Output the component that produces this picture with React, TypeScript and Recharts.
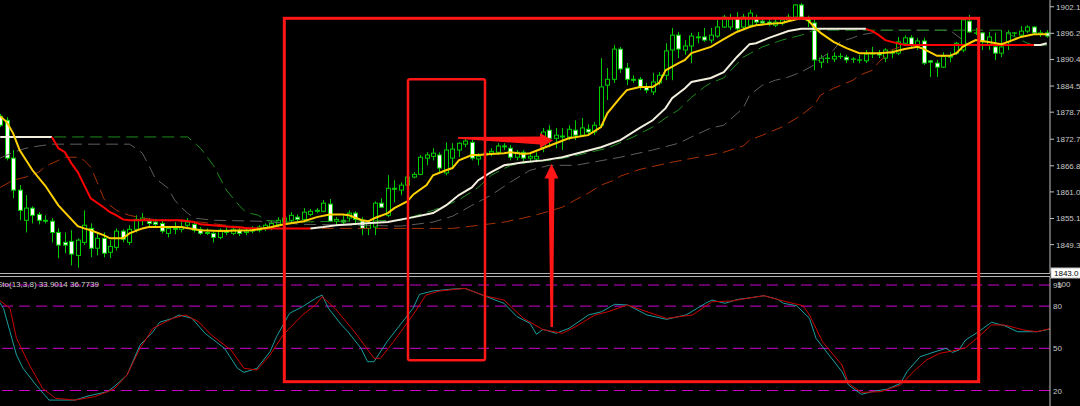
import React from 'react';
import { ComposedChart, Bar, Line, XAxis, YAxis, ReferenceLine } from 'recharts';

// candles, oldest first
const opens = [
  1877.8, 1876.9, 1868.5, 1861.4, 1854.7, 1857.4, 1856.0, 1854.7, 1854.5, 1852.0,
  1849.8, 1850.0, 1846.9, 1849.8, 1852.9, 1848.5, 1850.7, 1847.6, 1848.7, 1852.3,
  1849.8, 1852.7, 1854.7, 1854.5, 1854.3, 1854.0, 1851.8, 1852.9, 1852.7, 1853.6,
  1853.8, 1852.7, 1852.0, 1851.8, 1850.9, 1852.3, 1851.8, 1852.5, 1852.0, 1852.3,
  1852.5, 1852.9, 1852.9, 1853.8, 1854.3, 1854.7, 1855.4, 1854.9, 1856.0, 1856.7,
  1856.7, 1858.3, 1854.5, 1854.7, 1855.2, 1856.3, 1854.7, 1852.9, 1853.2, 1858.5,
  1855.8, 1861.8, 1861.4, 1862.5, 1864.3, 1864.9, 1868.5, 1868.9, 1869.2, 1865.2,
  1868.5, 1870.3, 1871.6, 1872.0, 1868.3, 1869.2, 1869.6, 1869.8, 1871.2, 1870.7,
  1868.7, 1869.8, 1868.5, 1868.3, 1870.9, 1874.7, 1872.9, 1873.2, 1873.2, 1874.7,
  1873.6, 1874.9, 1874.3, 1875.8, 1884.7, 1886.0, 1892.7, 1888.5, 1886.0, 1886.0,
  1884.3, 1883.2, 1885.2, 1886.9, 1892.5, 1895.8, 1892.5, 1893.4, 1895.4, 1895.4,
  1894.7, 1895.6, 1897.6, 1897.6, 1899.6, 1897.6, 1898.0, 1899.4, 1898.9, 1898.7,
  1898.0, 1898.5, 1899.2, 1899.8, 1902.5, 1899.6, 1898.5, 1889.8, 1890.7, 1890.5,
  1891.1, 1890.9, 1890.5, 1890.3, 1890.1, 1891.6, 1891.8, 1890.7, 1892.0, 1891.8,
  1894.0, 1895.2, 1893.4, 1894.5, 1890.1, 1889.6, 1888.7, 1890.9, 1891.8, 1892.5,
  1898.9, 1896.3, 1896.3, 1893.6, 1893.2, 1891.8, 1894.3, 1896.3, 1895.8, 1896.7,
  1897.6, 1896.3, 1896.3,
];
const highs = [
  1878.3, 1877.6, 1870.3, 1862.5, 1860.3, 1857.8, 1856.5, 1855.8, 1855.2, 1852.9,
  1852.0, 1852.5, 1850.7, 1856.9, 1854.0, 1851.8, 1852.0, 1850.3, 1852.9, 1852.7,
  1853.6, 1855.8, 1856.3, 1855.2, 1855.0, 1854.7, 1853.4, 1854.3, 1854.3, 1855.2,
  1854.5, 1853.2, 1852.9, 1852.3, 1852.9, 1853.2, 1853.2, 1853.0, 1852.9, 1853.4,
  1853.6, 1854.0, 1854.7, 1855.4, 1855.6, 1856.5, 1856.0, 1857.4, 1857.2, 1857.4,
  1859.2, 1859.4, 1855.4, 1855.8, 1856.9, 1856.7, 1855.4, 1854.5, 1858.9, 1859.6,
  1864.7, 1863.6, 1863.1, 1865.4, 1865.4, 1869.2, 1869.8, 1870.7, 1869.8, 1872.0,
  1871.8, 1872.0, 1872.9, 1872.5, 1869.6, 1870.0, 1870.7, 1871.8, 1871.8, 1871.4,
  1870.3, 1870.3, 1869.4, 1869.8, 1875.2, 1875.8, 1875.2, 1875.2, 1875.8, 1876.9,
  1877.4, 1876.0, 1876.5, 1890.7, 1888.5, 1893.6, 1893.2, 1889.6, 1886.9, 1886.5,
  1885.2, 1887.4, 1887.6, 1894.0, 1897.4, 1896.5, 1894.7, 1896.3, 1896.5, 1897.4,
  1897.4, 1899.2, 1900.3, 1900.5, 1900.9, 1900.5, 1901.4, 1900.3, 1899.6, 1899.4,
  1899.4, 1899.8, 1900.5, 1902.7, 1902.9, 1900.1, 1899.2, 1891.4, 1891.8, 1892.0,
  1891.8, 1891.4, 1890.9, 1891.4, 1892.5, 1893.2, 1892.5, 1892.9, 1892.7, 1895.4,
  1895.8, 1895.8, 1895.2, 1895.2, 1890.3, 1890.3, 1892.0, 1892.0, 1894.3, 1899.6,
  1900.3, 1897.4, 1896.5, 1896.5, 1896.3, 1896.9, 1896.9, 1896.5, 1897.8, 1898.0,
  1897.8, 1896.9, 1896.9,
];
const lows = [
  1875.4, 1868.0, 1859.6, 1854.7, 1852.0, 1854.0, 1853.8, 1854.0, 1849.8, 1846.3,
  1847.4, 1844.7, 1844.2, 1849.2, 1846.5, 1846.9, 1846.5, 1846.3, 1848.0, 1849.8,
  1849.2, 1852.0, 1853.6, 1853.4, 1853.2, 1851.8, 1850.9, 1851.6, 1852.0, 1853.2,
  1852.0, 1851.4, 1851.4, 1849.8, 1850.5, 1851.4, 1851.4, 1851.2, 1851.4, 1851.8,
  1852.0, 1852.3, 1852.5, 1853.2, 1853.8, 1854.3, 1854.5, 1854.3, 1855.6, 1856.3,
  1856.5, 1854.3, 1853.6, 1853.8, 1854.5, 1853.6, 1851.4, 1851.4, 1851.4, 1857.4,
  1855.4, 1858.7, 1860.3, 1862.0, 1864.0, 1864.7, 1866.9, 1868.0, 1865.4, 1864.7,
  1866.5, 1868.7, 1870.9, 1868.0, 1866.9, 1868.5, 1868.9, 1869.2, 1870.3, 1868.0,
  1868.0, 1867.8, 1867.6, 1867.6, 1869.8, 1870.9, 1870.7, 1870.3, 1872.5, 1872.5,
  1873.2, 1873.4, 1873.6, 1875.2, 1881.4, 1885.2, 1887.4, 1884.7, 1885.2, 1883.6,
  1882.9, 1882.5, 1884.7, 1885.8, 1885.8, 1890.7, 1891.4, 1889.6, 1894.0, 1894.3,
  1894.0, 1895.2, 1897.4, 1896.9, 1896.5, 1897.2, 1897.6, 1898.0, 1898.0, 1897.8,
  1897.6, 1898.0, 1898.7, 1899.4, 1899.6, 1897.6, 1888.0, 1888.5, 1889.6, 1889.8,
  1890.5, 1889.6, 1889.6, 1889.6, 1889.6, 1890.7, 1890.7, 1889.8, 1890.7, 1891.4,
  1893.6, 1892.9, 1892.5, 1889.2, 1886.5, 1886.5, 1888.5, 1889.8, 1891.4, 1892.0,
  1896.3, 1895.8, 1892.5, 1892.5, 1890.3, 1890.9, 1892.5, 1895.4, 1895.4, 1896.3,
  1895.8, 1895.4, 1895.2,
];
const closes = [
  1875.8, 1868.5, 1861.4, 1856.9, 1857.4, 1855.8, 1854.7, 1854.5, 1852.0, 1849.2,
  1849.2, 1847.2, 1850.3, 1853.6, 1848.5, 1850.7, 1847.4, 1848.9, 1852.3, 1850.5,
  1852.7, 1854.9, 1855.2, 1854.0, 1853.8, 1852.3, 1852.9, 1852.7, 1853.2, 1854.3,
  1852.5, 1851.8, 1851.8, 1850.9, 1852.5, 1852.0, 1852.7, 1851.8, 1852.3, 1852.7,
  1853.2, 1853.6, 1854.0, 1854.7, 1855.2, 1855.8, 1854.9, 1856.5, 1856.7, 1856.9,
  1858.5, 1854.5, 1854.9, 1854.3, 1856.3, 1854.9, 1852.9, 1854.0, 1858.5, 1857.6,
  1861.8, 1861.6, 1862.5, 1864.3, 1864.9, 1868.7, 1869.2, 1869.6, 1866.3, 1870.3,
  1870.5, 1871.8, 1872.3, 1868.5, 1868.9, 1869.6, 1870.0, 1871.2, 1871.0, 1868.7,
  1869.8, 1868.5, 1868.9, 1868.9, 1874.3, 1872.9, 1873.6, 1873.4, 1874.9, 1873.6,
  1875.2, 1874.3, 1875.8, 1884.3, 1886.0, 1892.7, 1888.3, 1886.0, 1885.8, 1884.3,
  1883.6, 1885.4, 1886.9, 1892.3, 1895.8, 1892.7, 1893.4, 1895.6, 1895.2, 1894.7,
  1895.8, 1897.6, 1899.8, 1899.6, 1897.2, 1899.8, 1900.7, 1898.7, 1898.5, 1898.3,
  1898.7, 1899.2, 1899.8, 1902.5, 1899.8, 1899.0, 1890.3, 1890.7, 1890.7, 1891.1,
  1891.1, 1890.3, 1890.5, 1890.3, 1891.6, 1891.8, 1891.4, 1892.5, 1891.8, 1894.3,
  1895.2, 1893.6, 1894.5, 1889.6, 1889.8, 1888.7, 1891.1, 1891.1, 1894.0, 1899.2,
  1896.5, 1896.3, 1894.3, 1895.4, 1891.8, 1893.2, 1896.3, 1896.3, 1896.7, 1897.6,
  1896.3, 1896.3, 1895.6,
];

// moving averages, [candle index, price]
const yellowMA: [number, number][] = [
  [0, 1877.8], [1, 1876.5], [2, 1874.0], [3, 1870.3], [5, 1865.8], [7, 1862.3], [9, 1858.0],
  [12, 1853.4], [13, 1852.9], [14, 1852.5], [16, 1851.4], [17, 1850.7], [19, 1850.7], [20, 1851.8],
  [22, 1852.9], [23, 1853.2], [28, 1853.2], [31, 1852.5], [34, 1852.3], [39, 1852.5], [42, 1853.2],
  [44, 1853.8], [47, 1854.5], [49, 1855.4], [51, 1856.0], [53, 1856.0], [54, 1855.8], [56, 1854.7],
  [57, 1854.5], [58, 1855.2], [60, 1856.3], [61, 1857.4], [63, 1858.9], [64, 1860.5], [66, 1862.5],
  [67, 1864.7], [69, 1865.8], [70, 1866.3], [71, 1868.0], [73, 1869.2], [74, 1869.2], [76, 1869.4],
  [78, 1869.6], [79, 1869.8], [81, 1869.4], [82, 1869.6], [84, 1870.7], [88, 1872.9], [91, 1873.6],
  [93, 1875.4], [94, 1878.5], [96, 1882.0], [97, 1883.6], [99, 1884.3], [101, 1884.3], [102, 1885.2],
  [103, 1888.0], [105, 1889.6], [106, 1890.3], [107, 1891.8], [110, 1893.2], [112, 1894.9],
  [114, 1896.5], [116, 1897.6], [117, 1898.0], [119, 1898.3], [121, 1898.5], [122, 1898.9],
  [124, 1899.6], [125, 1899.2], [126, 1897.6], [127, 1896.3], [129, 1894.3], [131, 1892.9],
  [133, 1891.8], [136, 1891.8], [138, 1892.0], [140, 1892.7], [142, 1893.2], [143, 1892.7],
  [145, 1891.2], [147, 1891.2], [148, 1891.8], [149, 1893.2], [150, 1894.0], [151, 1894.7],
  [153, 1894.3], [155, 1893.8], [156, 1894.3], [158, 1895.4], [160, 1896.0], [162, 1896.0],
];
// two-colour average: white while rising, red while falling
const whiteMA: [number, number][][] = [
  [[0, 1873.2], [8, 1873.2]],
  [
    [48, 1852.9], [50, 1853.2], [52, 1853.6], [56, 1854.0], [60, 1854.3], [64, 1855.4], [67, 1856.3],
    [69, 1858.0], [71, 1860.3], [73, 1862.0], [74, 1863.6], [76, 1865.4], [78, 1866.9], [81, 1867.6],
    [84, 1868.0], [87, 1868.7], [90, 1869.8], [93, 1870.9], [96, 1872.5], [99, 1875.2], [101, 1876.9],
    [103, 1879.6], [104, 1881.8], [106, 1884.0], [107, 1885.4], [110, 1886.3], [112, 1887.6],
    [114, 1890.9], [116, 1893.8], [117, 1894.0], [119, 1895.2], [122, 1896.7], [124, 1897.2], [134, 1897.2],
  ],
  [[160, 1893.6], [161, 1893.6], [162, 1894.0]],
];
const redMA: [number, number][][] = [
  [
    [8, 1873.2], [9, 1870.7], [10, 1869.8], [11, 1867.4], [12, 1865.4], [13, 1862.5], [14, 1859.6],
    [16, 1857.6], [17, 1856.5], [18, 1855.8], [19, 1854.9], [20, 1854.7], [28, 1854.7], [30, 1854.3],
    [31, 1853.8], [36, 1853.2], [39, 1852.9], [48, 1852.9],
  ],
  [[134, 1897.2], [135, 1896.7], [136, 1895.8], [137, 1894.7], [138, 1894.3], [140, 1893.6], [160, 1893.6]],
];
const greenMA: [number, number][] = [
  [0, 1873.2], [29, 1873.2], [31, 1870.7], [33, 1866.9], [35, 1861.4], [37, 1858.0], [38, 1856.5],
  [40, 1855.8], [41, 1854.7], [45, 1854.3], [62, 1854.7], [67, 1856.9], [71, 1859.2], [74, 1862.0],
  [76, 1864.7], [79, 1866.9], [82, 1867.6], [85, 1868.0], [88, 1868.7], [94, 1870.7], [98, 1873.2],
  [101, 1875.4], [103, 1877.4], [105, 1879.2], [107, 1882.0], [109, 1884.3], [110, 1885.2],
  [112, 1886.3], [115, 1890.9], [118, 1893.2], [121, 1894.7], [124, 1895.8], [126, 1896.9],
  [155, 1896.9], [159, 1894.0], [160, 1893.6], [162, 1893.6],
];
const grayMA: [number, number][] = [
  [0, 1868.5], [2, 1869.8], [4, 1870.7], [6, 1871.2], [8, 1871.6], [20, 1871.6], [21, 1870.7],
  [22, 1869.6], [23, 1866.9], [24, 1864.0], [26, 1861.8], [27, 1859.2], [28, 1857.6], [29, 1856.3],
  [30, 1855.2], [33, 1854.7], [40, 1854.5], [47, 1853.8], [56, 1853.6], [62, 1853.4], [67, 1854.3],
  [70, 1855.6], [73, 1858.0], [76, 1860.3], [79, 1863.2], [82, 1865.8], [85, 1866.9], [89, 1866.9],
  [96, 1868.7], [101, 1870.3], [105, 1871.8], [107, 1873.2], [110, 1875.2], [112, 1875.8],
  [115, 1879.6], [116, 1882.5], [118, 1884.7], [120, 1885.8], [122, 1886.5], [124, 1887.6],
  [126, 1889.2], [127, 1890.7], [129, 1892.5], [130, 1894.3], [132, 1895.2], [133, 1895.8],
  [135, 1896.3], [136, 1896.9], [147, 1896.9], [149, 1894.7], [150, 1893.6], [162, 1893.6],
];
const brownMA: [number, number][] = [
  [0, 1862.0], [2, 1863.6], [4, 1864.3], [6, 1865.4], [7, 1866.7], [9, 1868.0], [10, 1868.7],
  [12, 1868.7], [13, 1868.0], [14, 1866.5], [15, 1863.2], [16, 1859.6], [17, 1858.0], [18, 1856.9],
  [19, 1856.3], [20, 1855.8], [22, 1855.2], [25, 1854.7], [31, 1854.3], [36, 1853.4], [40, 1852.9],
  [70, 1852.9], [73, 1853.4], [78, 1854.3], [81, 1855.2], [84, 1856.3], [87, 1857.6], [89, 1859.2],
  [91, 1860.7], [93, 1862.5], [95, 1863.6], [96, 1864.5], [99, 1866.0], [104, 1867.6], [108, 1868.7],
  [112, 1869.8], [115, 1871.2], [116, 1872.5], [118, 1873.6], [121, 1875.4], [122, 1876.3],
  [124, 1878.0], [126, 1880.3], [127, 1882.5], [129, 1884.0], [132, 1885.8], [133, 1886.9],
  [135, 1888.0], [136, 1889.8], [138, 1892.5], [140, 1893.6], [162, 1893.6],
];

// stochastic (13,3,8)
const stochMain: [number, number][] = [
  [0, 85.5], [1, 78.4], [2, 61.8], [3, 45.2], [4, 35.8], [6, 23.9], [8, 13.2], [10, 13.2], [12, 13.2],
  [14, 16.1], [17, 19.2], [18, 22.7], [20, 31.0], [22, 52.3], [24, 61.8], [25, 68.5], [27, 71.3],
  [28, 73.7], [30, 71.3], [32, 60.7], [35, 50.0], [37, 35.8], [38, 32.9], [40, 35.8], [42, 47.6],
  [43, 58.2], [45, 74.9], [47, 79.6], [49, 85.5], [50, 87.9], [51, 78.4], [53, 66.6], [54, 61.8],
  [56, 50.0], [57, 40.5], [58, 40.5], [60, 54.7], [62, 66.6], [64, 78.4], [65, 88.4], [67, 90.7],
  [70, 92.1], [72, 92.6], [74, 89.1], [76, 85.5], [78, 82.0], [80, 72.5], [82, 67.8], [83, 60.0],
  [84, 63.5], [86, 60.7], [88, 64.2], [91, 73.7], [93, 76.0], [95, 81.3], [97, 80.8], [100, 73.7],
  [103, 70.6], [106, 73.7], [109, 82.0], [110, 84.3], [112, 82.0], [114, 84.8], [116, 86.0],
  [118, 87.4], [120, 85.0], [121, 82.0], [123, 80.3], [125, 71.3], [126, 57.1], [128, 45.2],
  [130, 33.4], [131, 23.9], [133, 17.3], [135, 19.6], [137, 21.0], [139, 25.1], [140, 33.4],
  [142, 44.0], [144, 47.1], [146, 50.0], [147, 47.1], [148, 48.8], [149, 55.9], [151, 61.8],
  [153, 68.5], [155, 66.1], [157, 61.8], [160, 61.8], [162, 63.7],
];
const stochSignal: [number, number][] = [
  [0, 85.5], [2, 78.4], [3, 57.1], [5, 38.1], [7, 21.6], [9, 14.5], [12, 13.2], [15, 15.6], [18, 21.0],
  [20, 31.0], [22, 50.0], [24, 64.2], [27, 71.3], [29, 73.7], [31, 68.9], [33, 59.4], [36, 48.8],
  [38, 35.8], [40, 34.6], [42, 45.2], [44, 59.4], [47, 73.7], [49, 80.8], [50, 86.7], [52, 78.4],
  [55, 61.8], [58, 42.9], [59, 42.9], [61, 54.7], [64, 73.7], [66, 87.9], [68, 90.7], [72, 92.6],
  [75, 87.4], [78, 84.3], [81, 71.3], [84, 63.3], [87, 60.7], [89, 65.4], [92, 73.7], [94, 76.0],
  [97, 80.8], [100, 76.0], [103, 71.3], [107, 73.7], [110, 83.1], [113, 83.6], [116, 86.0],
  [118, 87.4], [121, 83.6], [124, 80.3], [125, 73.7], [127, 54.7], [130, 38.1], [131, 25.1],
  [133, 18.7], [136, 19.2], [139, 23.9], [141, 33.4], [143, 41.7], [145, 46.4], [147, 48.1],
  [149, 50.4], [151, 58.2], [153, 66.6], [155, 66.6], [158, 63.0], [160, 61.8], [162, 64.0],
];

const priceTicks = [1902.1, 1896.2, 1890.4, 1884.5, 1878.7, 1872.7, 1866.8, 1861.0, 1855.1, 1849.3];
const stochLevels = [95, 80, 50, 20];
const stochTicks = [20, 50, 80, 95, 100];

const FONT = '"Liberation Sans", Arial, sans-serif';
const CANDLE = '#00cc00';
const ANNOT = '#ff1717';

type Row = Record<string, any>;
const addPoints = (rows: Row[], key: string, pts: [number, number][]) => {
  pts.forEach(([i, v]) => {
    rows[i][key] = v;
  });
};

const priceRows: Row[] = opens.map((o, i) => ({
  i,
  o,
  h: highs[i],
  l: lows[i],
  c: closes[i],
  hl: [lows[i], highs[i]],
}));
addPoints(priceRows, 'yellow', yellowMA);
addPoints(priceRows, 'green', greenMA);
addPoints(priceRows, 'gray', grayMA);
addPoints(priceRows, 'brown', brownMA);
whiteMA.forEach((seg, k) => addPoints(priceRows, `w${k}`, seg));
redMA.forEach((seg, k) => addPoints(priceRows, `r${k}`, seg));

const stochRows: Row[] = opens.map((_, i) => ({ i }));
addPoints(stochRows, 'main', stochMain);
addPoints(stochRows, 'signal', stochSignal);

const Candle = (props: any) => {
  const { x, y, width, height, payload } = props;
  if (!payload) return null;
  const { o, h, l, c } = payload;
  const top = Math.min(y, y + height);
  const full = Math.abs(height);
  const cx = Math.round(x + width / 2) + 0.5;
  const py = (v: number) => (h === l ? top : top + ((h - v) / (h - l)) * full);
  const bTop = py(Math.max(o, c));
  const bBot = py(Math.min(o, c));
  const bull = c >= o;
  return (
    <g>
      <line x1={cx} x2={cx} y1={top} y2={top + full} stroke={CANDLE} strokeWidth={1} />
      <rect
        x={cx - 2}
        y={bTop}
        width={4}
        height={Math.max(bBot - bTop, 0.3)}
        fill={bull ? '#000' : '#fff'}
        stroke={CANDLE}
        strokeWidth={1}
      />
    </g>
  );
};

const PriceTick = ({ x, y, payload }: any) => (
  <text x={x} y={y} dy={3} fill="#c8c8c8" fontSize={8} fontFamily={FONT}>
    {Number(payload.value).toFixed(2)}
  </text>
);

const StochTick = ({ x, y, payload }: any) => {
  const top = payload.value === 100;
  return (
    <text x={top ? x + 4 : x} y={top ? y + 6 : y} dy={3} fill="#c8c8c8" fontSize={8} fontFamily={FONT}>
      {payload.value}
    </text>
  );
};

const dashed = (key: string, color: string) => (
  <Line
    key={key}
    dataKey={key}
    stroke={color}
    strokeWidth={1}
    strokeDasharray="12 6"
    dot={false}
    activeDot={false}
    connectNulls
    isAnimationActive={false}
  />
);

const solid = (key: string, color: string) => (
  <Line
    key={key}
    dataKey={key}
    stroke={color}
    strokeWidth={2}
    dot={false}
    activeDot={false}
    connectNulls
    isAnimationActive={false}
  />
);

export default function App() {
  return (
    <div
      style={{
        position: 'absolute',
        left: 0,
        top: 0,
        width: 1080,
        height: 406,
        background: '#000',
        overflow: 'hidden',
        pointerEvents: 'none',
      }}
    >
      <div style={{ position: 'absolute', left: -3, top: 0 }}>
        <ComposedChart width={1083} height={273} data={priceRows} margin={{ top: 0, right: 0, bottom: 0, left: 0 }}>
          <XAxis dataKey="i" hide />
          <YAxis
            orientation="right"
            width={30}
            domain={[1843.0, 1903.6]}
            ticks={priceTicks}
            interval={0}
            allowDataOverflow
            stroke="#c0c0c0"
            tickSize={4}
            tickMargin={2}
            tick={<PriceTick />}
          />
          <Bar dataKey="hl" shape={(p: any) => <Candle {...p} />} activeBar={false} isAnimationActive={false} />
          {dashed('brown', '#a83000')}
          {dashed('gray', '#5e5e5e')}
          {dashed('green', '#1c8c1c')}
          {whiteMA.map((_, k) => solid(`w${k}`, '#f2efdf'))}
          {redMA.map((_, k) => solid(`r${k}`, '#ff0000'))}
          {solid('yellow', '#ffd000')}
        </ComposedChart>
      </div>

      <div style={{ position: 'absolute', left: -3, top: 277 }}>
        <ComposedChart width={1083} height={129} data={stochRows} margin={{ top: 0, right: 0, bottom: 0, left: 0 }}>
          <XAxis dataKey="i" hide />
          <YAxis
            orientation="right"
            width={30}
            domain={[9, 100.7]}
            ticks={stochTicks}
            interval={0}
            allowDataOverflow
            stroke="#c0c0c0"
            tickLine={false}
            tickSize={0}
            tickMargin={3}
            tick={<StochTick />}
          />
          {stochLevels.map((v) => (
            <ReferenceLine key={v} y={v} stroke="#cc00cc" strokeDasharray="11 6" />
          ))}
          <Line
            dataKey="main"
            stroke="#1a9e9e"
            strokeWidth={1}
            dot={false}
            activeDot={false}
            connectNulls
            isAnimationActive={false}
          />
          <Line
            dataKey="signal"
            stroke="#cc0000"
            strokeWidth={1}
            dot={false}
            activeDot={false}
            connectNulls
            isAnimationActive={false}
          />
        </ComposedChart>
      </div>

      {/* panel separator, price box and hand-drawn annotations */}
      <svg width={1080} height={406} style={{ position: 'absolute', left: 0, top: 0, pointerEvents: 'none' }}>
        <line x1={0} x2={1050} y1={273.5} y2={273.5} stroke="#b4b4b4" />
        <line x1={0} x2={1050} y1={276.5} y2={276.5} stroke="#b4b4b4" />
        <rect x={1051} y={268} width={34} height={10} fill="#fff" stroke="#c0c0c0" />
        <text x={1054} y={276} fill="#000" fontSize={8} fontFamily={FONT}>
          1843.0
        </text>
        <text x={-3} y={287} fill="#d0d0d0" fontSize={8} fontFamily={FONT}>
          Sto(13,3,8) 33.9014 36.7739
        </text>
        <rect x={284.3} y={18.3} width={694.4} height={363.4} fill="none" stroke={ANNOT} strokeWidth={3} />
        <rect x={408} y={79.3} width={77} height={281} rx={2} fill="none" stroke={ANNOT} strokeWidth={2.5} />
        <polygon
          points="458,137 540,136.5 540,133 553,140.5 540,148 540,144.5 458,138.8"
          fill={ANNOT}
        />
        <polygon
          points="551.5,164 558.5,178.5 554.5,178.5 553,327 550.5,327 548.5,178.5 544.5,178.5"
          fill={ANNOT}
        />
      </svg>
    </div>
  );
}
